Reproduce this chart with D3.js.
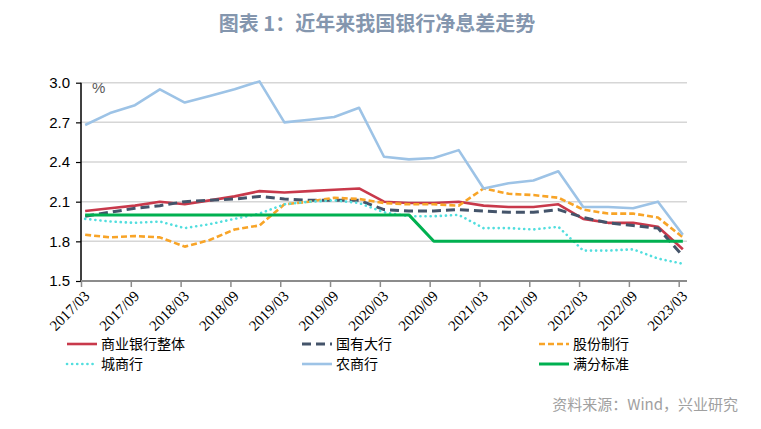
<!DOCTYPE html>
<html>
<head>
<meta charset="utf-8">
<script src="https://cdn.jsdelivr.net/npm/d3@7"></script>
<style>
  html, body { margin: 0; padding: 0; background: #fff; }
  svg { display: block; }
</style>
</head>
<body>
<svg id="chart" width="761" height="429"></svg>
<script>
// ---------------- data ----------------
const quarters = ["2017/03","2017/06","2017/09","2017/12","2018/03","2018/06","2018/09","2018/12",
  "2019/03","2019/06","2019/09","2019/12","2020/03","2020/06","2020/09","2020/12",
  "2021/03","2021/06","2021/09","2021/12","2022/03","2022/06","2022/09","2022/12","2023/03"];
const commercialBanks = [2.03,2.05,2.07,2.10,2.08,2.11,2.14,2.18,2.17,2.18,2.19,2.20,2.10,2.09,2.09,2.10,2.07,2.06,2.06,2.08,1.97,1.94,1.94,1.91,1.74];
const stateOwned      = [1.99,2.02,2.05,2.07,2.10,2.11,2.12,2.14,2.12,2.11,2.11,2.11,2.04,2.03,2.03,2.04,2.03,2.02,2.02,2.04,1.98,1.94,1.92,1.90,1.69];
const jointStock      = [1.85,1.83,1.84,1.83,1.76,1.81,1.89,1.92,2.08,2.10,2.13,2.12,2.09,2.08,2.08,2.07,2.20,2.16,2.15,2.13,2.04,2.01,2.01,1.98,1.83];
const cityCommercial  = [1.97,1.95,1.94,1.95,1.90,1.93,1.97,2.01,2.08,2.10,2.11,2.09,2.02,1.99,1.99,2.00,1.90,1.90,1.89,1.91,1.73,1.73,1.74,1.67,1.63];
const ruralCommercial = [2.68,2.77,2.83,2.95,2.85,2.90,2.95,3.01,2.70,2.72,2.74,2.81,2.44,2.42,2.43,2.49,2.20,2.24,2.26,2.33,2.06,2.06,2.05,2.10,1.85];
const fullScoreStd    = [2.0,2.0,2.0,2.0,2.0,2.0,2.0,2.0,2.0,2.0,2.0,2.0,2.0,2.0,1.8,1.8,1.8,1.8,1.8,1.8,1.8,1.8,1.8,1.8,1.8];

const seriesNames = ["商业银行整体","国有大行","股份制行","城商行","农商行","满分标准"];
const xTickLabels = ["2017/03","2017/09","2018/03","2018/09","2019/03","2019/09","2020/03","2020/09","2021/03","2021/09","2022/03","2022/09","2023/03"];
const yTicks = [1.5,1.8,2.1,2.4,2.7,3.0];

const titleText = "图表 1：近年来我国银行净息差走势";
const sourceText = "资料来源：Wind，兴业研究";
const unitText = "%";

// ---------------- styles ----------------
const styles = [
  {color:"#c8394b", width:2.6, dash:null, cap:"butt"},
  {color:"#44546a", width:3,   dash:"9,5", cap:"butt"},
  {color:"#f8a427", width:2.6, dash:"6,3", cap:"butt"},
  {color:"#52dede", width:2.6, dash:"0.1,5", cap:"round"},
  {color:"#9dc3e6", width:2.6, dash:null, cap:"butt"},
  {color:"#00b050", width:3,   dash:null, cap:"butt"}
];
const seriesData = [commercialBanks, stateOwned, jointStock, cityCommercial, ruralCommercial, fullScoreStd];

// ---------------- layout ----------------
const svg = d3.select("#chart");
const plotLeft = 81, plotRight = 687, plotTop = 82.7, plotBottom = 281;

function monthIndex(s) {
  const [yy, mm] = s.split("/").map(Number);
  return (yy - 2017) * 12 + (mm - 3);
}

const x = d3.scaleLinear().domain([0, 73]).range([plotLeft, plotRight]);
const y = d3.scaleLinear().domain([1.5, 3.0]).range([plotBottom, plotTop]);

// title
svg.append("text")
  .attr("x", 377).attr("y", 31)
  .attr("text-anchor", "middle")
  .attr("font-family", "'Noto Sans CJK SC', sans-serif")
  .attr("font-weight", "bold")
  .attr("font-size", 20)
  .attr("fill", "#8496ae")
  .text(titleText);

// gridlines
svg.append("g").selectAll("line")
  .data(yTicks.filter(t => t > 1.5))
  .join("line")
  .attr("x1", plotLeft).attr("x2", plotRight)
  .attr("y1", d => y(d)).attr("y2", d => y(d))
  .attr("stroke", "#d6d6d6").attr("stroke-width", 1.5);

// series lines
const line = d3.line()
  .x((d, i) => x(monthIndex(quarters[i]) + 0.5))
  .y(d => y(d));

const gLines = svg.append("g");
seriesData.forEach((arr, k) => {
  const st = styles[k];
  gLines.append("path")
    .datum(arr)
    .attr("d", line)
    .attr("fill", "none")
    .attr("stroke", st.color)
    .attr("stroke-width", st.width)
    .attr("stroke-linecap", st.cap)
    .attr("stroke-linejoin", "round")
    .attr("stroke-dasharray", st.dash);
});

// y axis
const yAxis = svg.append("g")
  .attr("transform", `translate(${plotLeft},0)`)
  .call(d3.axisLeft(y).tickValues(yTicks).tickFormat(d3.format(".1f")).tickSize(5).tickPadding(6));
yAxis.select(".domain").attr("stroke", "#000").attr("stroke-width", 1.5).attr("d", `M0,${plotTop}V${plotBottom}`);
yAxis.selectAll(".tick line").attr("stroke", "#000").attr("stroke-width", 1.2);
yAxis.selectAll(".tick text")
  .attr("font-family", "'Liberation Sans', Arial, sans-serif")
  .attr("font-size", 15)
  .attr("fill", "#000");

// x axis
const xAxis = svg.append("g")
  .attr("transform", `translate(0,${plotBottom})`)
  .call(d3.axisBottom(x)
    .tickValues(xTickLabels.map(monthIndex))
    .tickFormat((d, i) => xTickLabels[i])
    .tickSize(6).tickPadding(4));
xAxis.select(".domain").attr("stroke", "#8c8c8c").attr("stroke-width", 2).attr("d", `M${plotLeft},0H${plotRight}`);
xAxis.selectAll(".tick line").attr("stroke", "#8c8c8c").attr("stroke-width", 1.5);
xAxis.selectAll(".tick text")
  .attr("font-family", "'Liberation Serif', 'Times New Roman', serif")
  .attr("font-size", 15)
  .attr("fill", "#000")
  .attr("text-anchor", "end")
  .attr("dy", null)
  .attr("y", 0)
  .attr("transform", "translate(9,16) rotate(-45)");

// unit
svg.append("text")
  .attr("x", 92).attr("y", 93)
  .attr("font-family", "'Liberation Sans', Arial, sans-serif")
  .attr("font-size", 15)
  .attr("fill", "#595959")
  .text(unitText);

// legend
const legendCols = [62, 297, 534];
const legendRows = [344, 364];
const legend = svg.append("g");
seriesNames.forEach((name, k) => {
  const col = k % 3, row = Math.floor(k / 3);
  const lx = legendCols[col], ly = legendRows[row];
  const st = styles[k];
  legend.append("line")
    .attr("x1", lx + 5).attr("x2", lx + 35)
    .attr("y1", ly).attr("y2", ly)
    .attr("stroke", st.color)
    .attr("stroke-width", st.width)
    .attr("stroke-linecap", st.cap)
    .attr("stroke-dasharray", st.dash);
  legend.append("text")
    .attr("x", lx + 39).attr("y", ly + 5)
    .attr("font-family", "'Noto Sans CJK SC', sans-serif")
    .attr("font-size", 14)
    .attr("fill", "#000")
    .text(name);
});

// source
svg.append("text")
  .attr("x", 738).attr("y", 410)
  .attr("text-anchor", "end")
  .attr("font-family", "'Noto Sans CJK SC', sans-serif")
  .attr("font-size", 15)
  .attr("fill", "#a0a0a0")
  .text(sourceText);
</script>
</body>
</html>
